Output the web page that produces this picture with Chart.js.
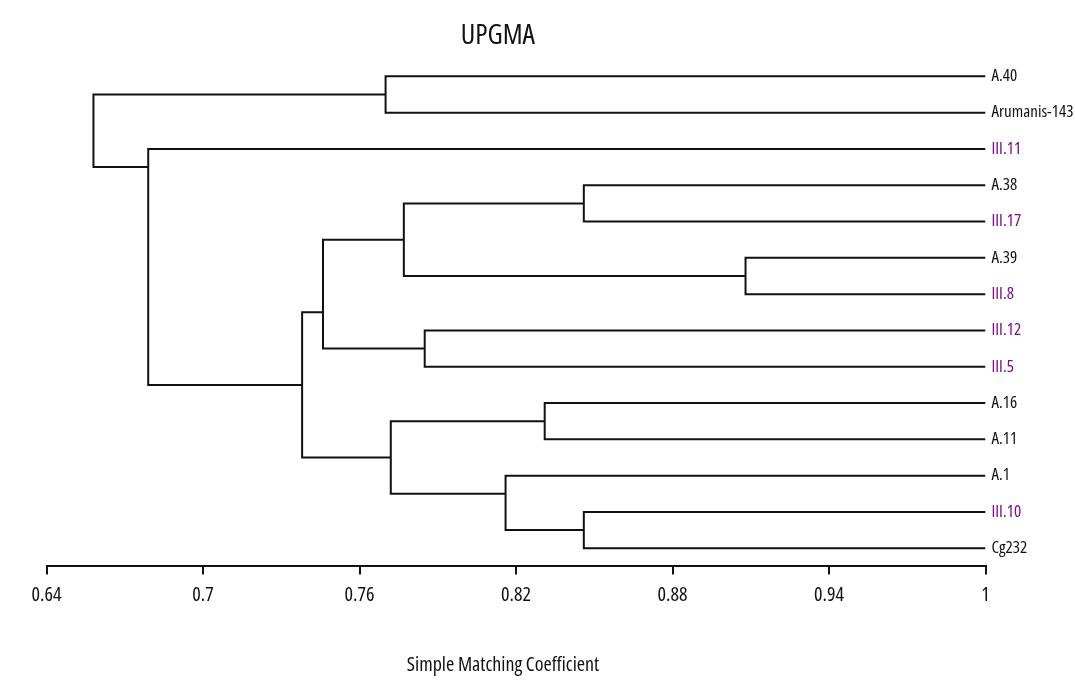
<!DOCTYPE html>
<html>
<head>
<meta charset="utf-8">
<title>UPGMA</title>
<script src="https://cdn.jsdelivr.net/npm/chart.js@4.4.1/dist/chart.umd.min.js"></script>
<style>
  html, body { margin: 0; padding: 0; background: #fff; }
  #wrap { width: 1075px; height: 684px; }
</style>
</head>
<body>
<div id="wrap"><canvas id="tree"></canvas></div>
<script>
// Dendrogram (UPGMA, simple matching coefficient)

// leaves, top to bottom
var leaves = ['A.40', 'Arumanis-143', 'III.11', 'A.38', 'III.17', 'A.39', 'III.8',
              'III.12', 'III.5', 'A.16', 'A.11', 'A.1', 'III.10', 'Cg232'];

// merges: ids 0..13 are leaves, new cluster ids start at 14
var mergeLeft  = [0, 3, 5, 15, 7, 17, 9, 12, 11, 20, 19, 2, 14];
var mergeRight = [1, 4, 6, 16, 8, 18, 10, 13, 21, 22, 23, 24, 25];
var mergeLevel = [0.770, 0.846, 0.908, 0.777, 0.785, 0.746, 0.831, 0.846, 0.816, 0.772, 0.738, 0.679, 0.658];

var xTicks = [0.64, 0.7, 0.76, 0.82, 0.88, 0.94, 1];
var xTickLabels = ['0.64', '0.7', '0.76', '0.82', '0.88', '0.94', '1'];

var FONT = "'Open Sans', 'DejaVu Sans Condensed', sans-serif";
// chart.js puts weight right before the size in the font string,
// so this sneaks font-stretch in and picks the condensed Open Sans face
var NARROW = 'condensed';
var INK = '#111111';
var PURPLE = '#7d0a87';

// work out where each cluster sits
var level = [], yPos = [], first = [], last = [];
leaves.forEach(function(name, i) {
    level[i] = 1;
    yPos[i] = i;
    first[i] = i;
    last[i] = i;
});

var datasets = [];
mergeLeft.forEach(function(a, k) {
    var b = mergeRight[k];
    var id = leaves.length + k;
    level[id] = mergeLevel[k];
    first[id] = first[a];
    last[id] = last[b];
    // node drawn on the border between the two child groups
    yPos[id] = (last[a] + first[b]) / 2;

    datasets.push({
        data: [
            { x: level[a], y: yPos[a] },
            { x: level[id], y: yPos[a] },
            { x: level[id], y: yPos[b] },
            { x: level[b], y: yPos[b] }
        ],
        showLine: true,
        borderColor: INK,
        borderWidth: 2,
        pointRadius: 0,
        tension: 0
    });
});

new Chart(document.getElementById('tree'), {
    type: 'scatter',
    data: { datasets: datasets },
    options: {
        responsive: true,
        maintainAspectRatio: false,
        animation: false,
        layout: { padding: { left: 46.5, right: 0, top: 6, bottom: 3 } },
        plugins: {
            legend: { display: false },
            tooltip: { enabled: false },
            title: {
                display: true,
                text: 'UPGMA       ',
                fullSize: false,
                color: INK,
                font: { family: FONT, size: 28, weight: NARROW },
                padding: { top: 13, bottom: 5.6 }
            }
        },
        scales: {
            x: {
                type: 'linear',
                min: 0.64,
                max: 1,
                afterBuildTicks: function(scale) {
                    scale.ticks = xTicks.map(function(v) { return { value: v }; });
                },
                ticks: {
                    color: INK,
                    font: { family: FONT, size: 20, weight: NARROW },
                    padding: 9,
                    maxRotation: 0,
                    autoSkip: false,
                    callback: function(value, index) { return xTickLabels[index]; }
                },
                grid: {
                    display: true,
                    drawOnChartArea: false,
                    drawTicks: true,
                    tickLength: 8,
                    color: INK,
                    lineWidth: 2
                },
                border: { display: true, color: INK, width: 2 },
                title: {
                    display: true,
                    text: 'Simple Matching Coefficient       ',
                    color: INK,
                    font: { family: FONT, size: 20, weight: NARROW },
                    padding: { top: 36.6, bottom: 4 }
                }
            },
            y: {
                type: 'linear',
                position: 'right',
                reverse: true,
                min: -0.5,
                max: 13.5,
                afterBuildTicks: function(scale) {
                    scale.ticks = leaves.map(function(n, i) { return { value: i }; });
                },
                afterFit: function(scale) { scale.width = 89.5; },
                ticks: {
                    padding: 6,
                    font: { family: FONT, size: 17, weight: NARROW },
                    color: function(ctx) {
                        return leaves[ctx.index].indexOf('III') === 0 ? PURPLE : INK;
                    },
                    callback: function(value, index) { return leaves[index]; }
                },
                grid: { display: false, drawTicks: false },
                border: { display: false }
            }
        }
    }
});
</script>
</body>
</html>
